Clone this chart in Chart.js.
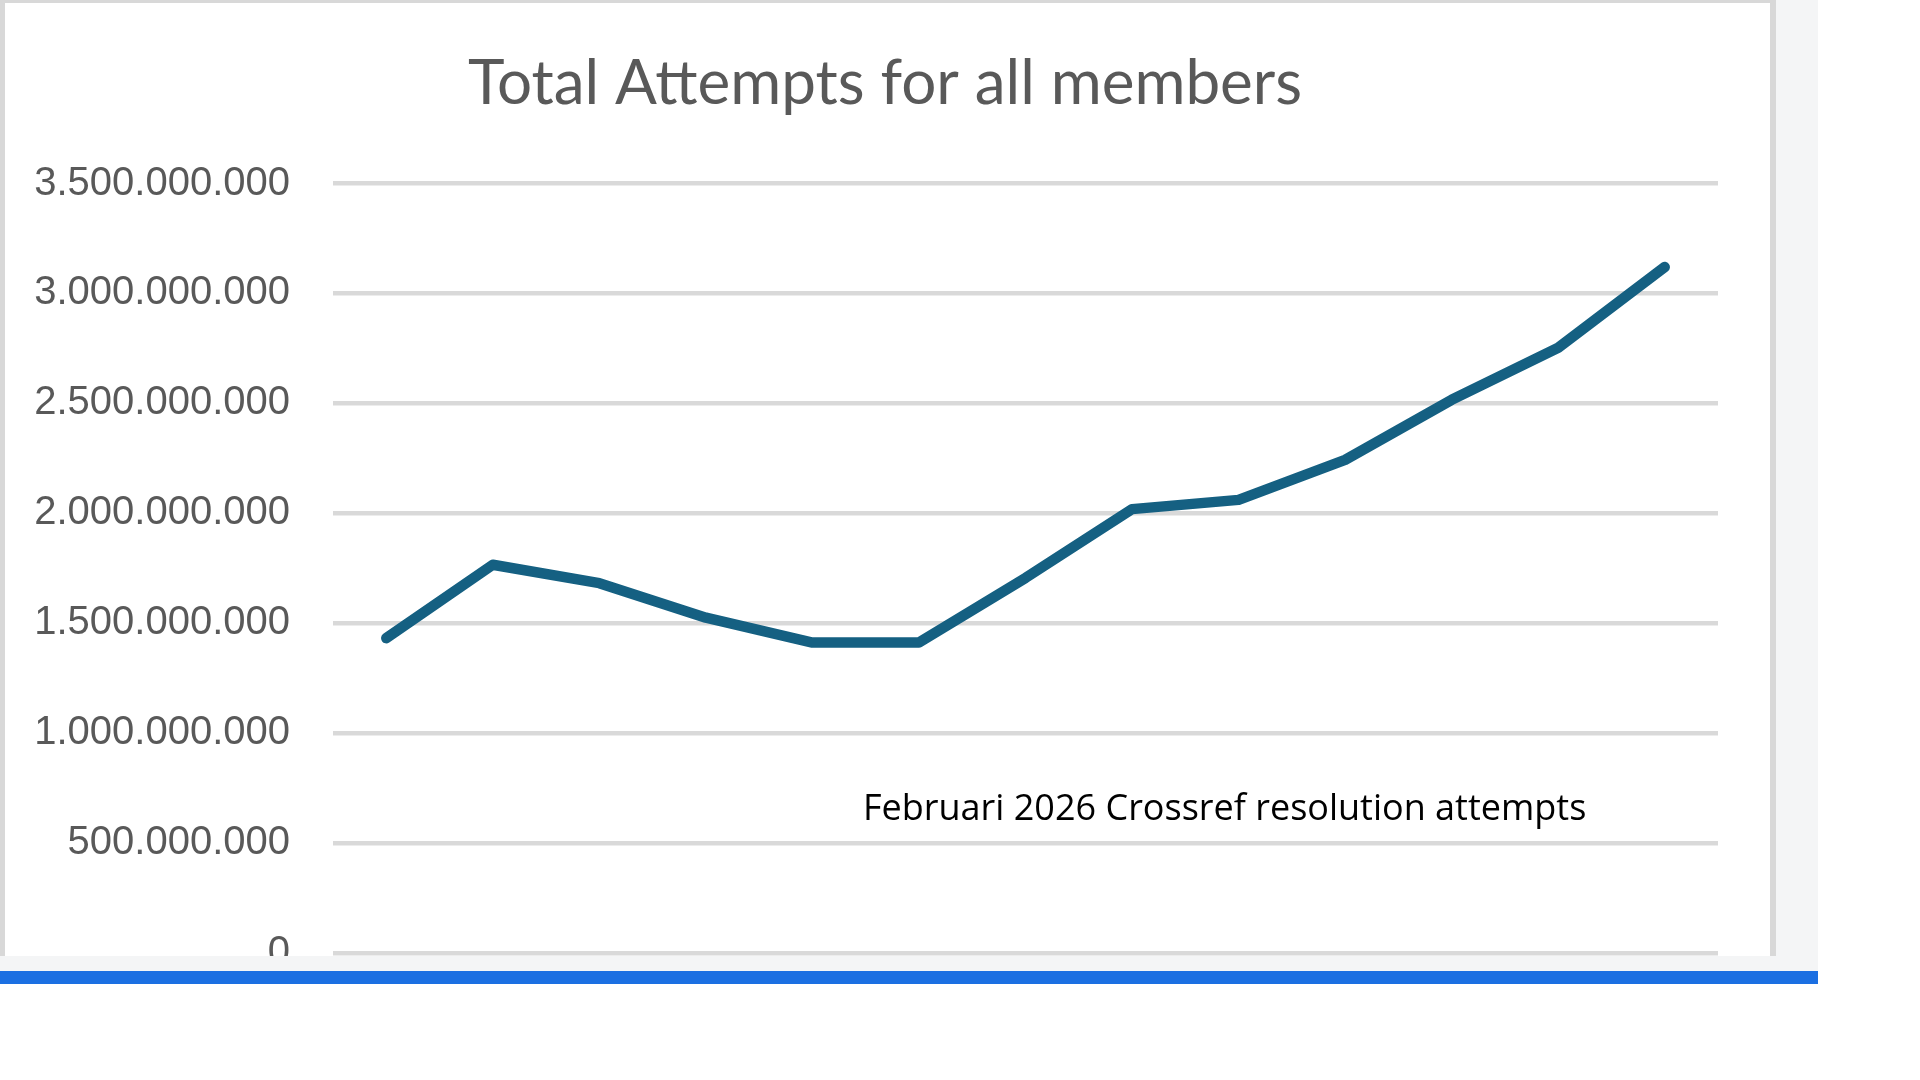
<!DOCTYPE html>
<html>
<head>
<meta charset="utf-8">
<script src="https://cdn.jsdelivr.net/npm/chart.js@4"></script>
<style>
  html, body { margin: 0; padding: 0; background: #fff; }
  #backdrop { position: absolute; left: 0; top: 0; width: 1818px; height: 971px; background: #f4f5f6; }
  #panel { position: absolute; left: 0; top: 0; width: 1776px; height: 956px; background: #fff;
           box-sizing: border-box; border-top: 3px solid #d8d8d8; border-left: 5px solid #d8d8d8;
           border-right: 6px solid #d8d8d8; }
  #clip { position: absolute; left: 5px; top: 3px; width: 1765px; height: 953px; overflow: hidden; }
  #wrap { position: absolute; left: -5px; top: -3px; width: 1770px; height: 1020px; }
  #caption { position: absolute; left: 863px; top: 789px; font-family: "Open Sans", sans-serif;
             font-size: 36px; line-height: 36px; color: #000; white-space: nowrap; }
  #bar { position: absolute; left: 0; top: 971px; width: 1818px; height: 13px; background: #1b6fe2; }
</style>
</head>
<body>
<div id="backdrop"></div>
<div id="panel"></div>
<div id="clip">
  <div id="wrap"><canvas id="chart"></canvas></div>
</div>
<div id="caption">Februari 2026 Crossref resolution attempts</div>
<div id="bar"></div>

<script>
// ---------------- DATA ----------------
const months = ["feb", "mrt", "apr", "mei", "jun", "jul", "aug", "sep", "okt", "nov", "dec", "jan", "feb"];
const attempts = [
    1432000000, 1766000000, 1682000000, 1525000000, 1412000000, 1412000000, 1706000000,
    2019000000, 2061000000, 2243000000, 2516000000, 2753000000, 3120000000
];
const yTicks = [0, 500000000, 1000000000, 1500000000, 2000000000, 2500000000, 3000000000, 3500000000];

function dots(v) {
    return String(v).replace(/\B(?=(\d{3})+(?!\d))/g, ".");
}

// ---------------- CHART ----------------
const ctx = document.getElementById("chart").getContext("2d");

new Chart(ctx, {
    type: "line",
    data: {
        labels: months,
        datasets: [{
            data: attempts,
            borderColor: "#156082",
            borderWidth: 10.5,
            borderCapStyle: "round",
            borderJoinStyle: "round",
            pointRadius: 0,
            tension: 0,
            fill: false
        }]
    },
    options: {
        responsive: true,
        maintainAspectRatio: false,
        animation: false,
        layout: { padding: { left: 0, right: 0, top: 0, bottom: 40.7 } },
        plugins: {
            legend: { display: false },
            tooltip: { enabled: false },
            title: {
                display: true,
                text: "Total Attempts for all members",
                color: "#595959",
                font: { family: "Lato", size: 62, weight: "normal", lineHeight: 1.2 },
                padding: { top: 46.9, bottom: 62.2 }
            }
        },
        scales: {
            x: {
                display: false,
                offset: true
            },
            y: {
                min: 0,
                max: 3500000000,
                afterBuildTicks: s => { s.ticks = yTicks.map(v => ({ value: v })); },
                afterFit: s => { s.width = 333; },
                border: { display: false },
                grid: { color: "#d9d9d9", lineWidth: 4.5, drawTicks: false },
                ticks: {
                    padding: 43,
                    color: "#595959",
                    font: { family: "Liberation Sans", size: 40 },
                    callback: v => dots(v)
                }
            },
            // empty right gutter so the plot ends where Excel's did
            gutter: {
                position: "right",
                min: 0,
                max: 1,
                border: { display: false },
                grid: { display: false },
                ticks: { display: false },
                afterFit: s => { s.width = 52; }
            }
        }
    }
});
</script>
</body>
</html>
